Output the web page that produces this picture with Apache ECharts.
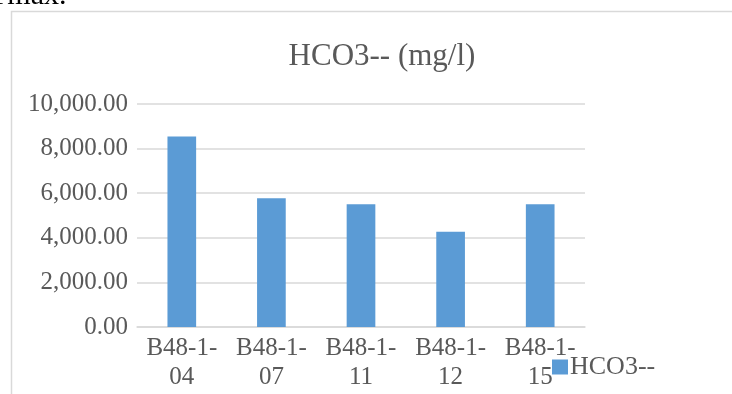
<!DOCTYPE html>
<html>
<head>
<meta charset="utf-8">
<script src="https://cdn.jsdelivr.net/npm/echarts@6/dist/echarts.min.js"></script>
<style>
html,body{margin:0;padding:0;background:#fff;}
#chart{width:732px;height:394px;}
</style>
</head>
<body>
<div id="chart"></div>
<script>
const categories = ["B48-1-\n04", "B48-1-\n07", "B48-1-\n11", "B48-1-\n12", "B48-1-\n15"];
const seriesName = "HCO3--";
const values = [8540, 5775, 5500, 4270, 5500];
const yTicks = { min: 0, max: 10000, interval: 2000 };
const titleText = "HCO3-- (mg/l)";
const topText = "Tmax.";

const FONT = '"Liberation Serif", "Times New Roman", serif';
const GREY = '#595959';

const chart = echarts.init(document.getElementById('chart'));
chart.setOption({
  animation: false,
  backgroundColor: '#fff',
  title: {
    text: titleText,
    left: 377,
    textAlign: 'center',
    top: 36,
    textStyle: { fontFamily: FONT, fontSize: 31, fontWeight: 'normal', color: GREY }
  },
  legend: {
    data: [seriesName],
    left: 547,
    top: 349,
    icon: 'rect',
    itemWidth: 16,
    itemHeight: 15,
    itemGap: 6,
    textStyle: { fontFamily: FONT, fontSize: 26, color: GREY, padding: [0,0,0,-3] }
  },
  graphic: [
    {
      type: 'rect',
      shape: { x: 11.5, y: 11.5, width: 800, height: 500 },
      style: { fill: 'none', stroke: '#d9d9d9', lineWidth: 1.5 },
      silent: true
    },
    {
      type: 'text',
      left: -11, top: -19,
      style: { text: topText, font: '30px ' + FONT, fill: '#000' },
      silent: true
    }
  ],
  grid: { left: 137, right: 147, top: 104, bottom: 67 },
  xAxis: {
    type: 'category',
    data: categories,
    axisLine: { lineStyle: { color: '#d9d9d9', width: 1.5 } },
    axisTick: { show: false },
    axisLabel: { interval: 0, margin: 7, fontFamily: FONT, fontSize: 25, lineHeight: 29, color: GREY }
  },
  yAxis: {
    type: 'value',
    min: yTicks.min, max: yTicks.max, interval: yTicks.interval,
    axisLine: { show: false },
    axisTick: { show: false },
    splitLine: { lineStyle: { color: '#d9d9d9', width: 1.5 } },
    axisLabel: {
      margin: 9, fontFamily: FONT, fontSize: 25, color: GREY,
      formatter: v => v.toLocaleString('en-US', { minimumFractionDigits: 2, maximumFractionDigits: 2 })
    }
  },
  series: [{
    name: seriesName,
    type: 'bar',
    data: values,
    barWidth: '32%',
    itemStyle: { color: '#5b9bd5' }
  }]
});
</script>
</body>
</html>
